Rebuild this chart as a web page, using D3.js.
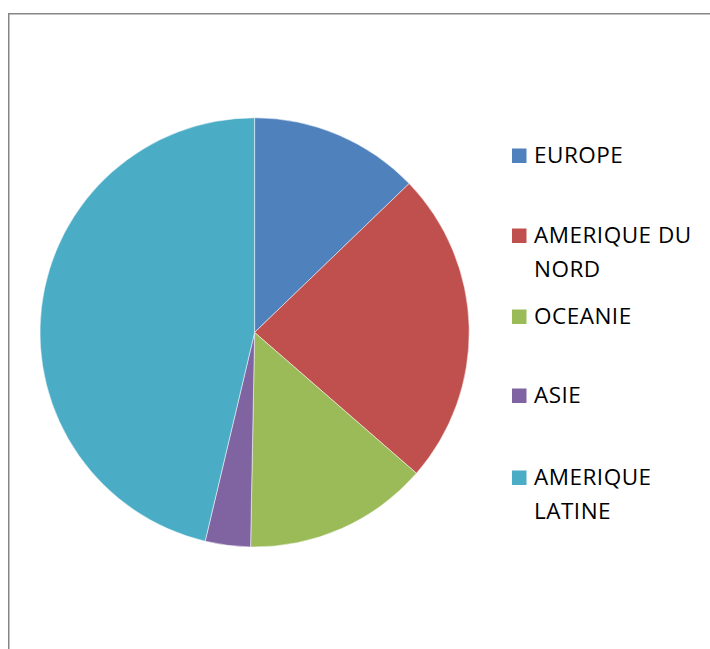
<!DOCTYPE html>
<html>
<head>
<meta charset="utf-8">
<script src="https://cdn.jsdelivr.net/npm/d3@7"></script>
<style>
  html, body { margin: 0; padding: 0; background: #fff; }
  svg { display: block; }
</style>
</head>
<body>
<svg id="chart" width="710" height="649"></svg>
<script>
var regions = ["EUROPE", "AMERIQUE DU NORD", "OCEANIE", "ASIE", "AMERIQUE LATINE"];
var legendLines = [["EUROPE"], ["AMERIQUE DU", "NORD"], ["OCEANIE"], ["ASIE"], ["AMERIQUE", "LATINE"]];
var shares = [12.8, 23.6, 13.9, 3.4, 46.3];
var colors = ["#4F81BD", "#C0504D", "#9BBB59", "#8064A2", "#4BACC6"];

var svg = d3.select("#chart"),
  cx = 254.6,
  cy = 332.4,
  radius = 214.6,
  legendX = 512,
  legendRows = [163, 243, 324, 403, 485],
  lineHeight = 34;

// chart area frame (runs off the right and bottom edges)
svg.append("rect")
  .attr("x", 8.75)
  .attr("y", 13.75)
  .attr("width", 760)
  .attr("height", 700)
  .attr("fill", "none")
  .attr("stroke", "#868686")
  .attr("stroke-width", 1.5);

var pie = d3.pie()
  .sort(null)
  .value(function(d) { return d; });

var arc = d3.arc()
  .innerRadius(0)
  .outerRadius(radius);

svg.append("g")
  .attr("transform", "translate(" + cx + "," + cy + ")")
  .selectAll("path")
  .data(pie(shares))
  .enter()
  .append("path")
  .attr("d", arc)
  .attr("fill", function(d, i) { return colors[i]; })
  .attr("stroke", "#fff")
  .attr("stroke-width", 0.5);

var legend = svg.append("g")
  .selectAll("g")
  .data(regions)
  .enter()
  .append("g")
  .attr("transform", function(d, i) { return "translate(" + legendX + "," + legendRows[i] + ")"; });

legend.append("rect")
  .attr("x", 0)
  .attr("y", -14.5)
  .attr("width", 14.5)
  .attr("height", 14.5)
  .attr("fill", function(d, i) { return colors[i]; });

legend.append("text")
  .attr("x", 22)
  .attr("y", 0)
  .attr("font-family", "'Open Sans', sans-serif")
  .attr("font-size", 22.5)
  .attr("letter-spacing", 0.5)
  .attr("fill", "#000")
  .each(function(d, i) {
    var t = d3.select(this);
    legendLines[i].forEach(function(line, j) {
      t.append("tspan")
        .attr("x", 22)
        .attr("y", j * lineHeight)
        .text(line);
    });
  });
</script>
</body>
</html>
